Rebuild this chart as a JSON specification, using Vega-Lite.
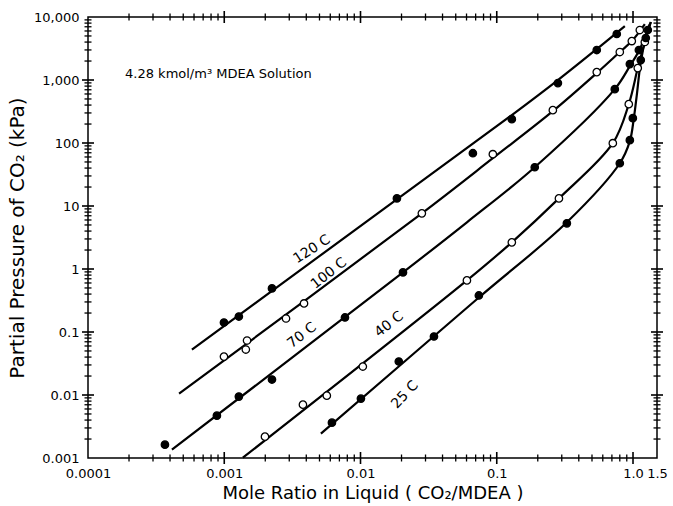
{
  "$schema": "https://vega.github.io/schema/vega-lite/v6.json",
  "width": 569,
  "height": 441,
  "autosize": {"type": "none"},
  "padding": {"left": 88, "top": 17, "right": 16, "bottom": 48},
  "background": "white",
  "config": {
    "view": {"stroke": "black", "strokeWidth": 1.5},
    "font": "DejaVu Sans",
    "axis": {"grid": false, "domain": false, "labelColor": "black", "titleColor": "black", "labelFont": "DejaVu Sans", "titleFont": "DejaVu Sans", "labelFontSize": 13, "titleFontSize": 18, "titleFontWeight": "normal"}
  },
  "datasets": {
    "curves": [
      {"t": "120 C", "x": 0.000579, "y": 0.0527},
      {"t": "120 C", "x": 0.0323, "y": 30.8},
      {"t": "120 C", "x": 0.129, "y": 277},
      {"t": "120 C", "x": 0.281, "y": 996},
      {"t": "120 C", "x": 0.542, "y": 3100},
      {"t": "120 C", "x": 0.871, "y": 7190},
      {"t": "100 C", "x": 0.000466, "y": 0.0105},
      {"t": "100 C", "x": 0.0282, "y": 7.65},
      {"t": "100 C", "x": 0.0936, "y": 57.3},
      {"t": "100 C", "x": 0.258, "y": 320},
      {"t": "100 C", "x": 0.542, "y": 1288},
      {"t": "100 C", "x": 0.8, "y": 2780},
      {"t": "100 C", "x": 0.98, "y": 4150},
      {"t": "100 C", "x": 1.221, "y": 7740},
      {"t": "70 C", "x": 0.000413, "y": 0.00136},
      {"t": "70 C", "x": 0.0205, "y": 0.883},
      {"t": "70 C", "x": 0.0604, "y": 5.51},
      {"t": "70 C", "x": 0.19, "y": 41.2},
      {"t": "70 C", "x": 0.735, "y": 716},
      {"t": "70 C", "x": 0.948, "y": 1663},
      {"t": "70 C", "x": 1.104, "y": 2880},
      {"t": "70 C", "x": 1.327, "y": 7740},
      {"t": "40 C", "x": 0.00137, "y": 0.00101},
      {"t": "40 C", "x": 0.0604, "y": 0.659},
      {"t": "40 C", "x": 0.129, "y": 2.65},
      {"t": "40 C", "x": 0.286, "y": 13.2},
      {"t": "40 C", "x": 0.711, "y": 99.3},
      {"t": "40 C", "x": 0.931, "y": 414},
      {"t": "40 C", "x": 1.084, "y": 1545},
      {"t": "40 C", "x": 1.221, "y": 4010},
      {"t": "40 C", "x": 1.351, "y": 8330},
      {"t": "25 C", "x": 0.00512, "y": 0.00243},
      {"t": "25 C", "x": 0.0739, "y": 0.353},
      {"t": "25 C", "x": 0.327, "y": 5.51},
      {"t": "25 C", "x": 0.8, "y": 47.7},
      {"t": "25 C", "x": 0.948, "y": 107},
      {"t": "25 C", "x": 1.014, "y": 248},
      {"t": "25 C", "x": 1.066, "y": 575},
      {"t": "25 C", "x": 1.14, "y": 1926},
      {"t": "25 C", "x": 1.241, "y": 4640},
      {"t": "25 C", "x": 1.351, "y": 8330}
    ],
    "obs": [
      {"t": "120 C", "m": "filled", "x": 0.000995, "y": 0.1416},
      {"t": "120 C", "m": "filled", "x": 0.00128, "y": 0.176},
      {"t": "120 C", "m": "filled", "x": 0.00224, "y": 0.492},
      {"t": "120 C", "m": "filled", "x": 0.0185, "y": 13.2},
      {"t": "120 C", "m": "filled", "x": 0.0668, "y": 68.8},
      {"t": "120 C", "m": "filled", "x": 0.129, "y": 239},
      {"t": "120 C", "m": "filled", "x": 0.281, "y": 893},
      {"t": "120 C", "m": "filled", "x": 0.542, "y": 2990},
      {"t": "120 C", "m": "filled", "x": 0.76, "y": 5370},
      {"t": "100 C", "m": "open", "x": 0.000995, "y": 0.0407},
      {"t": "100 C", "m": "open", "x": 0.00144, "y": 0.0527},
      {"t": "100 C", "m": "open", "x": 0.00147, "y": 0.0733},
      {"t": "100 C", "m": "open", "x": 0.00284, "y": 0.164},
      {"t": "100 C", "m": "open", "x": 0.00385, "y": 0.284},
      {"t": "100 C", "m": "open", "x": 0.0282, "y": 7.65},
      {"t": "100 C", "m": "open", "x": 0.0936, "y": 66.4},
      {"t": "100 C", "m": "open", "x": 0.258, "y": 332},
      {"t": "100 C", "m": "open", "x": 0.542, "y": 1336},
      {"t": "100 C", "m": "open", "x": 0.8, "y": 2780},
      {"t": "100 C", "m": "open", "x": 0.98, "y": 4150},
      {"t": "100 C", "m": "open", "x": 1.122, "y": 6210},
      {"t": "70 C", "m": "filled", "x": 0.000367, "y": 0.00163},
      {"t": "70 C", "m": "filled", "x": 0.000883, "y": 0.0047},
      {"t": "70 C", "m": "filled", "x": 0.00128, "y": 0.00944},
      {"t": "70 C", "m": "filled", "x": 0.00224, "y": 0.0176},
      {"t": "70 C", "m": "filled", "x": 0.00769, "y": 0.17},
      {"t": "70 C", "m": "filled", "x": 0.0205, "y": 0.883},
      {"t": "70 C", "m": "filled", "x": 0.19, "y": 41.2},
      {"t": "70 C", "m": "filled", "x": 0.735, "y": 716},
      {"t": "70 C", "m": "filled", "x": 0.948, "y": 1790},
      {"t": "70 C", "m": "filled", "x": 1.104, "y": 2990},
      {"t": "70 C", "m": "filled", "x": 1.284, "y": 6210},
      {"t": "40 C", "m": "open", "x": 0.00199, "y": 0.00218},
      {"t": "40 C", "m": "open", "x": 0.00378, "y": 0.00703},
      {"t": "40 C", "m": "open", "x": 0.00566, "y": 0.00977},
      {"t": "40 C", "m": "open", "x": 0.0104, "y": 0.0283},
      {"t": "40 C", "m": "open", "x": 0.0604, "y": 0.659},
      {"t": "40 C", "m": "open", "x": 0.129, "y": 2.65},
      {"t": "40 C", "m": "open", "x": 0.286, "y": 13.2},
      {"t": "40 C", "m": "open", "x": 0.711, "y": 99.3},
      {"t": "40 C", "m": "open", "x": 0.931, "y": 414},
      {"t": "40 C", "m": "open", "x": 1.084, "y": 1545},
      {"t": "40 C", "m": "open", "x": 1.221, "y": 4010},
      {"t": "25 C", "m": "filled", "x": 0.00617, "y": 0.00364},
      {"t": "25 C", "m": "filled", "x": 0.01007, "y": 0.00877},
      {"t": "25 C", "m": "filled", "x": 0.0191, "y": 0.034},
      {"t": "25 C", "m": "filled", "x": 0.0346, "y": 0.0848},
      {"t": "25 C", "m": "filled", "x": 0.0739, "y": 0.38},
      {"t": "25 C", "m": "filled", "x": 0.327, "y": 5.31},
      {"t": "25 C", "m": "filled", "x": 0.8, "y": 47.7},
      {"t": "25 C", "m": "filled", "x": 0.948, "y": 111},
      {"t": "25 C", "m": "filled", "x": 0.997, "y": 248},
      {"t": "25 C", "m": "filled", "x": 1.14, "y": 2070},
      {"t": "25 C", "m": "filled", "x": 1.241, "y": 4640}
    ],
    "labels": [
      {"label": "120 C", "x": 0.0044, "y": 2.05},
      {"label": "100 C", "x": 0.00586, "y": 0.85},
      {"label": "70 C", "x": 0.00372, "y": 0.088},
      {"label": "40 C", "x": 0.0162, "y": 0.1315},
      {"label": "25 C", "x": 0.0212, "y": 0.0101}
    ],
    "note": [
      {"text": "4.28 kmol/m³ MDEA Solution", "x": 0.000187, "y": 1242}
    ],
    "xticks": [
      {"v": 0.001, "k": "major"}, {"v": 0.01, "k": "major"}, {"v": 0.1, "k": "major"}, {"v": 1, "k": "major"},
      {"v": 0.0002, "k": "minor"}, {"v": 0.0003, "k": "minor"}, {"v": 0.0004, "k": "minor"}, {"v": 0.0005, "k": "minor"}, {"v": 0.0006, "k": "minor"}, {"v": 0.0007, "k": "minor"}, {"v": 0.0008, "k": "minor"}, {"v": 0.0009, "k": "minor"},
      {"v": 0.002, "k": "minor"}, {"v": 0.003, "k": "minor"}, {"v": 0.004, "k": "minor"}, {"v": 0.005, "k": "minor"}, {"v": 0.006, "k": "minor"}, {"v": 0.007, "k": "minor"}, {"v": 0.008, "k": "minor"}, {"v": 0.009, "k": "minor"},
      {"v": 0.02, "k": "minor"}, {"v": 0.03, "k": "minor"}, {"v": 0.04, "k": "minor"}, {"v": 0.05, "k": "minor"}, {"v": 0.06, "k": "minor"}, {"v": 0.07, "k": "minor"}, {"v": 0.08, "k": "minor"}, {"v": 0.09, "k": "minor"},
      {"v": 0.2, "k": "minor"}, {"v": 0.3, "k": "minor"}, {"v": 0.4, "k": "minor"}, {"v": 0.5, "k": "minor"}, {"v": 0.6, "k": "minor"}, {"v": 0.7, "k": "minor"}, {"v": 0.8, "k": "minor"}, {"v": 0.9, "k": "minor"}
    ],
    "yticks": [
      {"v": 0.01, "k": "major"}, {"v": 0.1, "k": "major"}, {"v": 1, "k": "major"}, {"v": 10, "k": "major"}, {"v": 100, "k": "major"}, {"v": 1000, "k": "major"},
      {"v": 0.002, "k": "minor"}, {"v": 0.003, "k": "minor"}, {"v": 0.004, "k": "minor"}, {"v": 0.005, "k": "minor"}, {"v": 0.006, "k": "minor"}, {"v": 0.007, "k": "minor"}, {"v": 0.008, "k": "minor"}, {"v": 0.009, "k": "minor"},
      {"v": 0.02, "k": "minor"}, {"v": 0.03, "k": "minor"}, {"v": 0.04, "k": "minor"}, {"v": 0.05, "k": "minor"}, {"v": 0.06, "k": "minor"}, {"v": 0.07, "k": "minor"}, {"v": 0.08, "k": "minor"}, {"v": 0.09, "k": "minor"},
      {"v": 0.2, "k": "minor"}, {"v": 0.3, "k": "minor"}, {"v": 0.4, "k": "minor"}, {"v": 0.5, "k": "minor"}, {"v": 0.6, "k": "minor"}, {"v": 0.7, "k": "minor"}, {"v": 0.8, "k": "minor"}, {"v": 0.9, "k": "minor"},
      {"v": 2, "k": "minor"}, {"v": 3, "k": "minor"}, {"v": 4, "k": "minor"}, {"v": 5, "k": "minor"}, {"v": 6, "k": "minor"}, {"v": 7, "k": "minor"}, {"v": 8, "k": "minor"}, {"v": 9, "k": "minor"},
      {"v": 20, "k": "minor"}, {"v": 30, "k": "minor"}, {"v": 40, "k": "minor"}, {"v": 50, "k": "minor"}, {"v": 60, "k": "minor"}, {"v": 70, "k": "minor"}, {"v": 80, "k": "minor"}, {"v": 90, "k": "minor"},
      {"v": 200, "k": "minor"}, {"v": 300, "k": "minor"}, {"v": 400, "k": "minor"}, {"v": 500, "k": "minor"}, {"v": 600, "k": "minor"}, {"v": 700, "k": "minor"}, {"v": 800, "k": "minor"}, {"v": 900, "k": "minor"},
      {"v": 2000, "k": "minor"}, {"v": 3000, "k": "minor"}, {"v": 4000, "k": "minor"}, {"v": 5000, "k": "minor"}, {"v": 6000, "k": "minor"}, {"v": 7000, "k": "minor"}, {"v": 8000, "k": "minor"}, {"v": 9000, "k": "minor"}
    ]
  },
  "encoding": {
    "x": {"type": "quantitative", "scale": {"type": "log", "domain": [0.0001, 1.5], "nice": false}},
    "y": {"type": "quantitative", "scale": {"type": "log", "domain": [0.001, 10000], "nice": false}}
  },
  "layer": [
    {
      "data": {"name": "xticks"},
      "transform": [{"filter": "datum.k == 'major'"}],
      "mark": {"type": "tick", "orient": "vertical", "size": 12, "thickness": 1.6, "color": "black", "opacity": 1},
      "encoding": {"x": {"field": "v", "type": "quantitative"}, "y": {"datum": 0.001, "type": "quantitative"}}
    },
    {
      "data": {"name": "xticks"},
      "transform": [{"filter": "datum.k == 'minor'"}],
      "mark": {"type": "tick", "orient": "vertical", "size": 7, "thickness": 1.3, "color": "black", "opacity": 1},
      "encoding": {"x": {"field": "v", "type": "quantitative"}, "y": {"datum": 0.001, "type": "quantitative"}}
    },
    {
      "data": {"name": "xticks"},
      "transform": [{"filter": "datum.k == 'major'"}],
      "mark": {"type": "tick", "orient": "vertical", "size": 12, "thickness": 1.6, "color": "black", "opacity": 1},
      "encoding": {"x": {"field": "v", "type": "quantitative"}, "y": {"datum": 10000, "type": "quantitative"}}
    },
    {
      "data": {"name": "xticks"},
      "transform": [{"filter": "datum.k == 'minor'"}],
      "mark": {"type": "tick", "orient": "vertical", "size": 7, "thickness": 1.3, "color": "black", "opacity": 1},
      "encoding": {"x": {"field": "v", "type": "quantitative"}, "y": {"datum": 10000, "type": "quantitative"}}
    },
    {
      "data": {"name": "yticks"},
      "transform": [{"filter": "datum.k == 'major'"}],
      "mark": {"type": "tick", "orient": "horizontal", "size": 12, "thickness": 1.6, "color": "black", "opacity": 1},
      "encoding": {"y": {"field": "v", "type": "quantitative"}, "x": {"datum": 0.0001, "type": "quantitative"}}
    },
    {
      "data": {"name": "yticks"},
      "transform": [{"filter": "datum.k == 'minor'"}],
      "mark": {"type": "tick", "orient": "horizontal", "size": 7, "thickness": 1.3, "color": "black", "opacity": 1},
      "encoding": {"y": {"field": "v", "type": "quantitative"}, "x": {"datum": 0.0001, "type": "quantitative"}}
    },
    {
      "data": {"name": "yticks"},
      "transform": [{"filter": "datum.k == 'major'"}],
      "mark": {"type": "tick", "orient": "horizontal", "size": 12, "thickness": 1.6, "color": "black", "opacity": 1},
      "encoding": {"y": {"field": "v", "type": "quantitative"}, "x": {"datum": 1.5, "type": "quantitative"}}
    },
    {
      "data": {"name": "yticks"},
      "transform": [{"filter": "datum.k == 'minor'"}],
      "mark": {"type": "tick", "orient": "horizontal", "size": 7, "thickness": 1.3, "color": "black", "opacity": 1},
      "encoding": {"y": {"field": "v", "type": "quantitative"}, "x": {"datum": 1.5, "type": "quantitative"}}
    },
    {
      "data": {"name": "curves"},
      "mark": {"type": "line", "color": "black", "strokeWidth": 2.2, "interpolate": "catmull-rom"},
      "encoding": {
        "x": {"field": "x", "type": "quantitative",
          "axis": {"orient": "bottom", "values": [0.0001, 0.001, 0.01, 0.1, 1, 1.5], "labelExpr": "datum.value == 1 ? '1.0' : format(datum.value, '.4~f')", "ticks": false, "labelPadding": 9, "title": "Mole Ratio in Liquid ( CO₂/MDEA )", "titlePadding": 4, "labelFlush": false, "labelOverlap": false}},
        "y": {"field": "y", "type": "quantitative",
          "axis": {"orient": "left", "values": [0.001, 0.01, 0.1, 1, 10, 100, 1000, 10000], "labelExpr": "format(datum.value, ',.3~f')", "ticks": false, "labelPadding": 9, "title": "Partial Pressure of CO₂ (kPa)", "titleFontSize": 20, "titlePadding": 6, "labelFlush": false, "labelOverlap": false}},
        "detail": {"field": "t", "type": "nominal"}
      }
    },
    {
      "data": {"name": "obs"},
      "mark": {"type": "point", "shape": "circle", "filled": true, "stroke": "black", "strokeWidth": 1.3, "size": 55, "opacity": 1},
      "encoding": {
        "x": {"field": "x", "type": "quantitative"},
        "y": {"field": "y", "type": "quantitative"},
        "fill": {"field": "m", "type": "nominal", "scale": {"domain": ["filled", "open"], "range": ["black", "white"]}, "legend": null}
      }
    },
    {
      "data": {"name": "labels"},
      "transform": [{"filter": "datum.label == '120 C'"}],
      "mark": {"type": "text", "angle": -33, "fontSize": 14, "align": "center", "baseline": "middle", "color": "black"},
      "encoding": {"x": {"field": "x", "type": "quantitative"}, "y": {"field": "y", "type": "quantitative"}, "text": {"field": "label", "type": "nominal"}}
    },
    {
      "data": {"name": "labels"},
      "transform": [{"filter": "datum.label != '120 C' && datum.label != '25 C'"}],
      "mark": {"type": "text", "angle": -38, "fontSize": 14, "align": "center", "baseline": "middle", "color": "black"},
      "encoding": {"x": {"field": "x", "type": "quantitative"}, "y": {"field": "y", "type": "quantitative"}, "text": {"field": "label", "type": "nominal"}}
    },
    {
      "data": {"name": "labels"},
      "transform": [{"filter": "datum.label == '25 C'"}],
      "mark": {"type": "text", "angle": -47, "fontSize": 14, "align": "center", "baseline": "middle", "color": "black"},
      "encoding": {"x": {"field": "x", "type": "quantitative"}, "y": {"field": "y", "type": "quantitative"}, "text": {"field": "label", "type": "nominal"}}
    },
    {
      "data": {"name": "note"},
      "mark": {"type": "text", "fontSize": 13, "align": "left", "baseline": "middle", "color": "black"},
      "encoding": {"x": {"field": "x", "type": "quantitative"}, "y": {"field": "y", "type": "quantitative"}, "text": {"field": "text", "type": "nominal"}}
    }
  ]
}
